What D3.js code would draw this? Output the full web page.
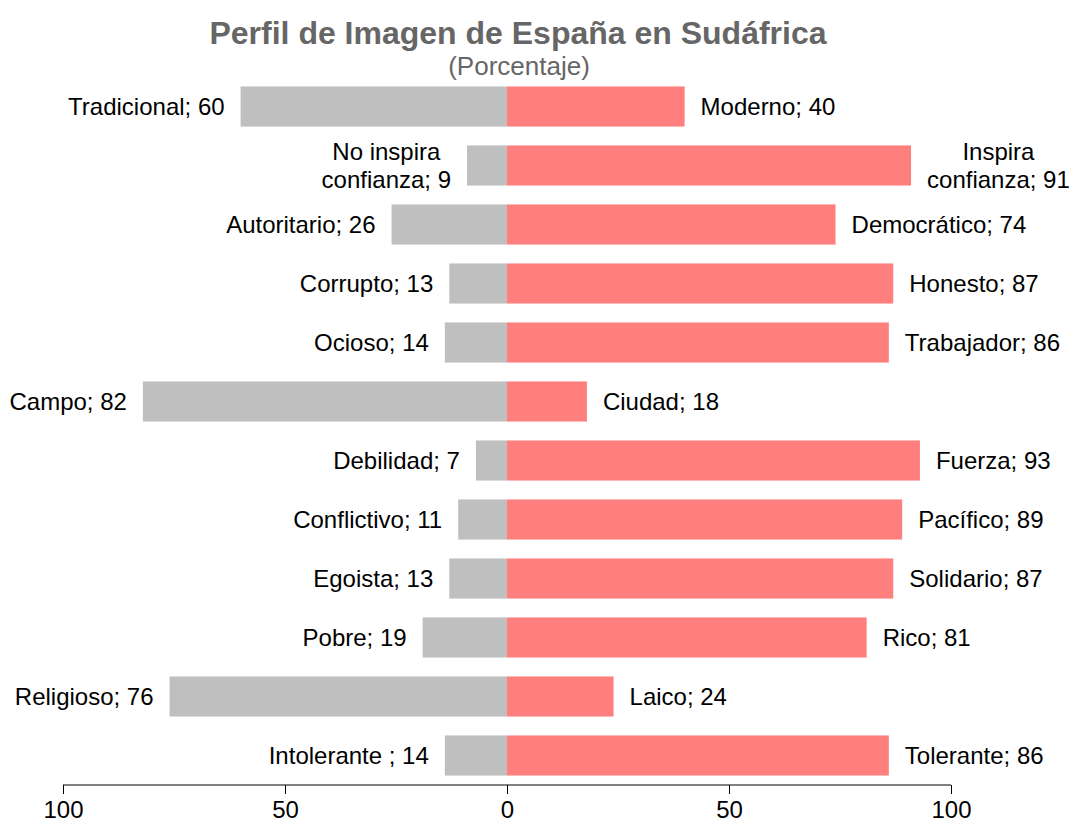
<!DOCTYPE html>
<html>
<head>
<meta charset="utf-8">
<script src="https://cdn.jsdelivr.net/npm/d3@7"></script>
<style>
  body { margin: 0; background: #fff; }
  svg { font-family: "Liberation Sans", Arial, sans-serif; }
</style>
</head>
<body>
<svg width="1072" height="826"></svg>
<script>
var leftLabels = ["Tradicional", "No inspira\nconfianza", "Autoritario", "Corrupto", "Ocioso", "Campo",
  "Debilidad", "Conflictivo", "Egoista", "Pobre", "Religioso", "Intolerante "];
var leftValues = [60, 9, 26, 13, 14, 82, 7, 11, 13, 19, 76, 14];
var rightLabels = ["Moderno", "Inspira\nconfianza", "Democrático", "Honesto", "Trabajador", "Ciudad",
  "Fuerza", "Pacífico", "Solidario", "Rico", "Laico", "Tolerante"];
var rightValues = [40, 91, 74, 87, 86, 18, 93, 89, 87, 81, 24, 86];
var tickValues = [-100, -50, 0, 50, 100];

var svg = d3.select("svg");
var rows = d3.range(leftValues.length);

var x = d3.scaleLinear().domain([-100, 100]).range([63, 951]);
var y = d3.scaleBand().domain(rows).range([77, 785]).paddingInner(0.32).paddingOuter(0.16);

// title
svg.append("text")
    .attr("x", 518).attr("y", 44)
    .attr("text-anchor", "middle")
    .style("font-size", "32px").style("font-weight", "bold")
    .style("fill", "#666666")
    .text("Perfil de Imagen de España en Sudáfrica");
svg.append("text")
    .attr("x", 519).attr("y", 75)
    .attr("text-anchor", "middle")
    .style("font-size", "26px")
    .style("fill", "#666666")
    .text("(Porcentaje)");

// bars
svg.append("g").selectAll("rect")
    .data(rows)
    .enter().append("rect")
    .attr("x", function(i) { return x(-leftValues[i]); })
    .attr("y", function(i) { return y(i); })
    .attr("width", function(i) { return x(0) - x(-leftValues[i]); })
    .attr("height", y.bandwidth())
    .attr("fill", "#bfbfbf");

svg.append("g").selectAll("rect")
    .data(rows)
    .enter().append("rect")
    .attr("x", x(0))
    .attr("y", function(i) { return y(i); })
    .attr("width", function(i) { return x(rightValues[i]) - x(0); })
    .attr("height", y.bandwidth())
    .attr("fill", "#ff7f7f");

// labels, multi-line ones centred within their block
function addLabel(g, text, xEdge, yc, side) {
  var lines = text.split("\n");
  var t = g.append("text")
      .style("font-size", "24px")
      .attr("text-anchor", "middle")
      .style("fill", "#000");
  var lh = 27.5;
  lines.forEach(function(l, k) {
    t.append("tspan")
      .attr("y", yc + (k - (lines.length - 1) / 2) * lh)
      .attr("dy", "0.35em")
      .text(l);
  });
  var w = 0;
  t.selectAll("tspan").each(function() { w = Math.max(w, this.getComputedTextLength()); });
  var cx = side < 0 ? xEdge - 16 - w / 2 : xEdge + 16 + w / 2;
  t.selectAll("tspan").attr("x", cx);
}

var labG = svg.append("g");
rows.forEach(function(i) {
  var yc = y(i) + y.bandwidth() / 2;
  addLabel(labG, leftLabels[i] + "; " + leftValues[i], x(-leftValues[i]), yc, -1);
  addLabel(labG, rightLabels[i] + "; " + rightValues[i], x(rightValues[i]), yc, 1);
});

// axis
var axis = svg.append("g")
    .attr("transform", "translate(0,785)")
    .call(d3.axisBottom(x)
      .tickValues(tickValues)
      .tickSize(9)
      .tickPadding(7)
      .tickFormat(function(d) { return Math.abs(d); }));
axis.select(".domain").attr("d", "M" + x(-100) + ",0H" + x(100)).attr("stroke", "#000");
axis.selectAll("text").style("font-size", "24px").style("font-family", "Liberation Sans, Arial, sans-serif").attr("fill", "#000");
</script>
</body>
</html>
